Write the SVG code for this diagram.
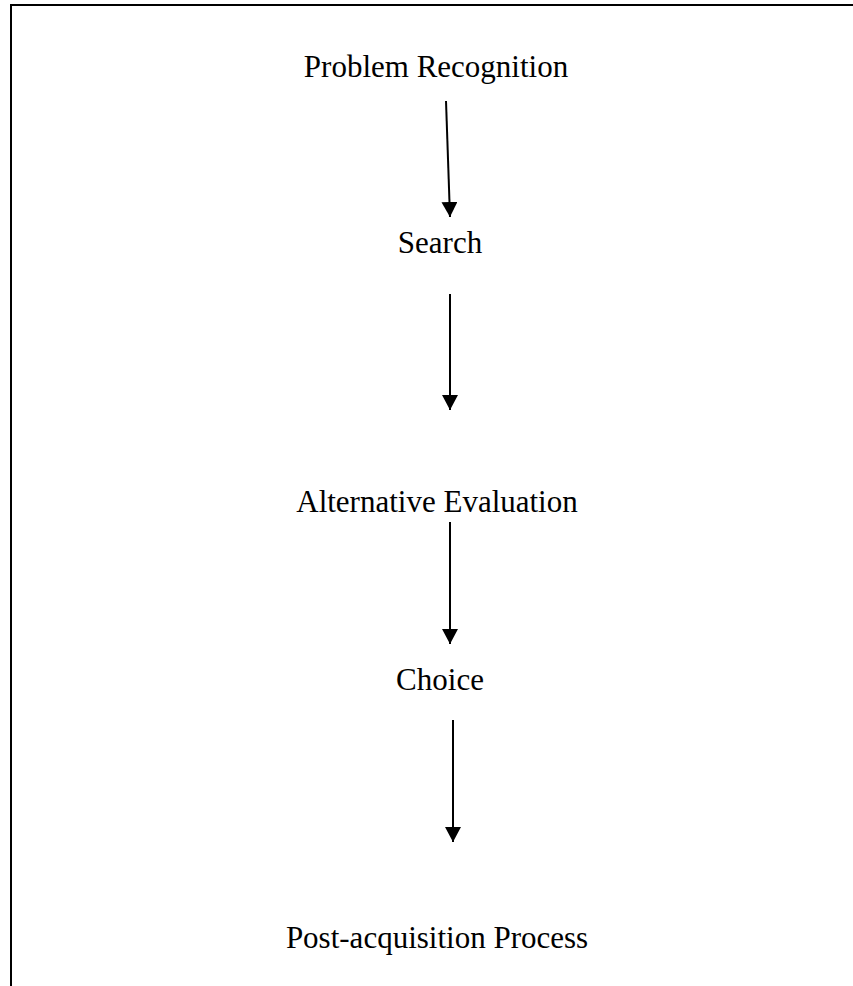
<svg xmlns="http://www.w3.org/2000/svg" width="853" height="986" viewBox="0 0 853 986">
<style>
.t{font-family:"Liberation Serif","Times New Roman",serif;font-size:31px;fill:#000;text-anchor:middle}
.c{stroke:#000;stroke-width:2;fill:none}
.b{stroke:#000;stroke-width:2}
</style>
<defs>
<marker id="ah" markerUnits="userSpaceOnUse" markerWidth="16" markerHeight="16" viewBox="0 0 16 16" refX="15" refY="8" orient="auto">
<path d="M0,0 L15,8 L0,16 Z" fill="#000"/>
</marker>
</defs>
<rect width="853" height="986" fill="#fff"/>
<g id="frame">
<line class="b" x1="10" y1="5" x2="853" y2="5"/>
<line class="b" x1="11" y1="4" x2="11" y2="986"/>
</g>
<g id="n1"><text class="t" x="436" y="77">Problem Recognition</text></g>
<g id="n2"><text class="t" x="440" y="253">Search</text></g>
<g id="n3"><text class="t" x="437" y="512">Alternative Evaluation</text></g>
<g id="n4"><text class="t" x="440" y="690">Choice</text></g>
<g id="n5"><text class="t" x="437" y="948">Post-acquisition Process</text></g>
<g id="connectors">
<line class="c" x1="446" y1="101" x2="450" y2="217" marker-end="url(#ah)"/>
<line class="c" x1="450" y1="294" x2="450" y2="410" marker-end="url(#ah)"/>
<line class="c" x1="450" y1="522" x2="450" y2="644" marker-end="url(#ah)"/>
<line class="c" x1="453" y1="720" x2="453" y2="842" marker-end="url(#ah)"/>
</g>
</svg>
